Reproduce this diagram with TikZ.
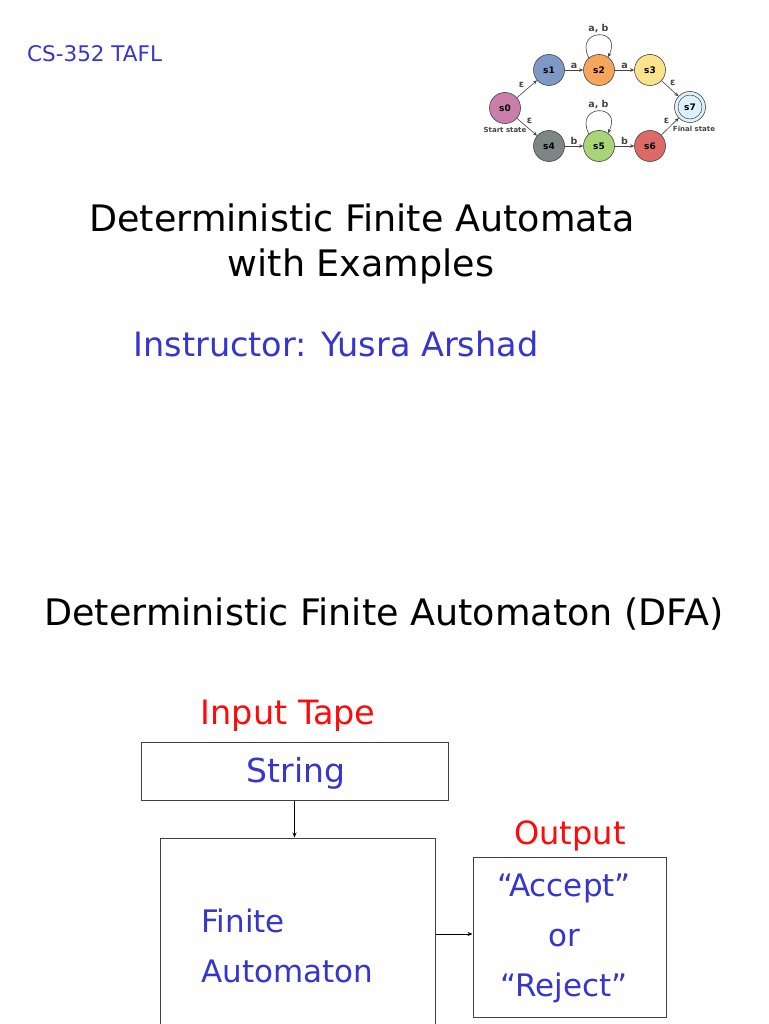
\documentclass[tikz,border=0pt]{standalone}
\usepackage{fontspec}
\setmainfont{DejaVu Sans}
\usetikzlibrary{arrows.meta}
\definecolor{txtblue}{HTML}{3535D0}
\definecolor{txtred}{HTML}{FF0A0A}
\definecolor{cs0}{HTML}{C97FAA}
\definecolor{cs1}{HTML}{7F99C6}
\definecolor{cs2}{HTML}{F5A65B}
\definecolor{cs3}{HTML}{FBE38C}
\definecolor{cs4}{HTML}{7E8585}
\definecolor{cs5}{HTML}{A9D478}
\definecolor{cs6}{HTML}{DE6A66}
\definecolor{cs7}{HTML}{DDF1FB}
\definecolor{edgegray}{HTML}{444444}
\tikzset{
  state/.style={circle, draw=edgegray, line width=0.6pt, minimum size=31pt, inner sep=0pt, font=\bfseries\fontsize{9}{10}\selectfont},
  tr/.style={-{Stealth[length=4pt,width=3.5pt]}, line width=0.6pt, draw=edgegray},
  elab/.style={font=\bfseries\fontsize{9.5}{10}\selectfont, text=edgegray, inner sep=1.5pt},
  small/.style={font=\bfseries\fontsize{7}{8}\selectfont, text=edgegray, inner sep=0pt},
  box/.style={draw=black!75, line width=1pt, rectangle, inner sep=0pt},
  conn/.style={-{Stealth[length=5pt,width=4pt]}, line width=0.7pt, draw=black},
  big/.style={font=\fontsize{36.5}{44}\selectfont, inner sep=0pt},
}
\begin{document}
\begin{tikzpicture}[x=1pt,y=-1pt]
\useasboundingbox (0,0) rectangle (768,1024);
\clip (0,0) rectangle (768,1024);
\fill[white] (0,0) rectangle (768,1024);

% header
\node[anchor=west, text=txtblue, font=\fontsize{21.5}{24}\selectfont, inner sep=0pt] (course) at (27,54) {CS-352 TAFL};

% automaton
\node[state, fill=cs0] (s0) at (505,108) {s0};
\node[state, fill=cs1] (s1) at (549,70) {s1};
\node[state, fill=cs2] (s2) at (599,70) {s2};
\node[state, fill=cs3] (s3) at (650,70) {s3};
\node[state, fill=cs4] (s4) at (549,146) {s4};
\node[state, fill=cs5] (s5) at (599,146) {s5};
\node[state, fill=cs6] (s6) at (650,146) {s6};
\node[state, fill=cs7] (s7) at (690,107) {};
\node[circle, draw=edgegray, line width=0.5pt, minimum size=24pt, inner sep=0pt, font=\bfseries\fontsize{9}{10}\selectfont] (s7in) at (s7) {s7};

\draw[tr] (s0) -- node[elab, above left, pos=0.45] (e1) {ε} (s1);
\draw[tr] (s0) -- node[elab, above right, pos=0.4] (e2) {ε} (s4);
\draw[tr] (s1) -- node[elab, above] (a1) {a} (s2);
\draw[tr] (s2) -- node[elab, above] (a2) {a} (s3);
\draw[tr] (s4) -- node[elab, above] (b1) {b} (s5);
\draw[tr] (s5) -- node[elab, above] (b2) {b} (s6);
\draw[tr] (s3) -- node[elab, above right, pos=0.4] (e3) {ε} (s7);
\draw[tr] (s6) -- node[elab, above left, pos=0.55] (e4) {ε} (s7);
\draw[tr] (s2.130) .. controls +(-15,-30) and +(15,-30) .. node[elab, above, inner sep=2pt] (l1) {a, b} (s2.55);
\draw[tr] (s5.130) .. controls +(-15,-30) and +(15,-30) .. node[elab, above, inner sep=2pt] (l2) {a, b} (s5.55);
\node[small] (st) at (505,130) {Start state};
\node[small] (ft) at (694,129) {Final state};

% titles
\node[big] (t1) at (362,218) {Deterministic Finite Automata};
\node[big] (t2) at (361,266) {with Examples};
\node[text=txtblue, font=\fontsize{33.5}{40}\selectfont, inner sep=0pt] (instr) at (336,344) {Instructor: Yusra Arshad};

\node[big] (dfa) at (384,614) {Deterministic Finite Automaton (DFA)};

% diagram
\node[text=txtred, font=\fontsize{33.5}{40}\selectfont, inner sep=0pt] (itape) at (288,716) {Input Tape};
\node[box, minimum width=307pt, minimum height=58pt] (sbox) at (294.5,771) {};
\node[text=txtblue, font=\fontsize{33}{40}\selectfont, inner sep=0pt] (strg) at (296,773) {String};

\node[box, minimum width=275pt, minimum height=212pt] (fa) at (297.5,944) {};
\node[text=txtblue, font=\fontsize{31}{50}\selectfont, anchor=west, align=left, inner sep=0pt] (fatext) at (201,946) {Finite\\Automaton};

\node[text=txtred, font=\fontsize{32}{38}\selectfont, inner sep=0pt] (outl) at (570,836) {Output};
\node[box, minimum width=193pt, minimum height=160pt] (out) at (569.5,937) {};
\node[text=txtblue, font=\fontsize{31}{50}\selectfont, align=center, inner sep=0pt] (outtext) at (564,938) {``Accept''\\or\\``Reject''};

\draw[conn] (sbox.south) -- (sbox.south |- fa.north);
\draw[conn] (fa.east |- 934,934) -- (out.west |- 934,934);
\end{tikzpicture}
\end{document}
